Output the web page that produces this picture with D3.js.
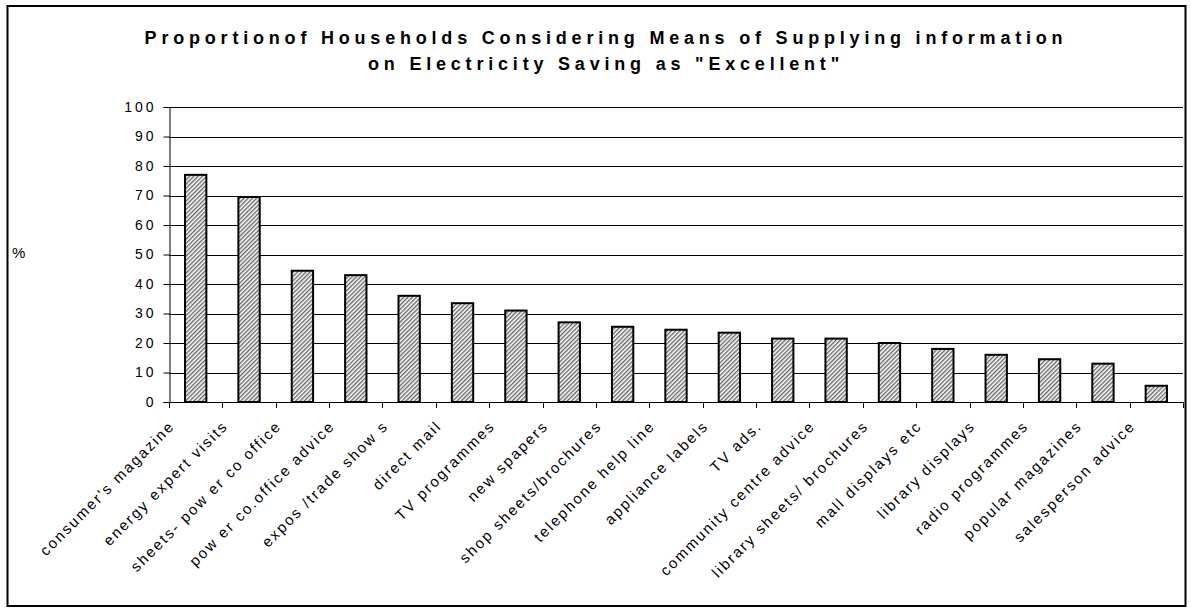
<!DOCTYPE html>
<html>
<head>
<meta charset="utf-8">
<script src="https://cdn.jsdelivr.net/npm/d3@7"></script>
<style>
  body { margin: 0; background: #fff; }
  svg { display: block; font-family: "Liberation Sans", Arial, sans-serif; }
</style>
</head>
<body>
<div id="chart"></div>
<script>
// Chart data
var categories = [
    "consumer's magazine", "energy expert visits", "sheets- pow er co office",
    "pow er co.office advice", "expos /trade show s", "direct mail",
    "TV programmes", "new spapers", "shop sheets/brochures",
    "telephone help line", "appliance labels", "TV ads.",
    "community centre advice", "library sheets/ brochures", "mall displays etc",
    "library displays", "radio programmes", "popular magazines",
    "salesperson advice"
];
var values = [77, 69.5, 44.5, 43, 36, 33.5, 31, 27, 25.5, 24.5, 23.5, 21.5, 21.5, 20, 18, 16, 14.5, 13, 5.5];
var yTicks = [0, 10, 20, 30, 40, 50, 60, 70, 80, 90, 100];
var titleLines = [
    "Proportionof Households Considering Means of Supplying information",
    "on Electricity Saving as \"Excellent\""
];

// Dimensions
var width = 1191;
var height = 614;
var plotLeft = 169;
var plotRight = 1183;
var plotTop = 107;
var plotBottom = 402;

var svg = d3.select("#chart")
    .append("svg")
    .attr("width", width)
    .attr("height", height);

// Hatched fill for the bars
var pattern = svg.append("defs")
    .append("pattern")
    .attr("id", "hatch")
    .attr("patternUnits", "userSpaceOnUse")
    .attr("width", 3)
    .attr("height", 3)
    .attr("patternTransform", "rotate(45)");

pattern.append("rect")
    .attr("width", 3)
    .attr("height", 3)
    .attr("fill", "#fff");

pattern.append("rect")
    .attr("width", 1.4)
    .attr("height", 3)
    .attr("fill", "#666");

// Outer frame
svg.append("rect")
    .attr("x", 7.5)
    .attr("y", 6)
    .attr("width", 1178)
    .attr("height", 600)
    .attr("fill", "none")
    .attr("stroke", "#000")
    .attr("stroke-width", 2);

// Scales
var x = d3.scaleBand()
    .domain(categories)
    .range([plotLeft, plotRight])
    .paddingInner(0.6)
    .paddingOuter(0.3);

var xStep = (plotRight - plotLeft) / categories.length;

var y = d3.scaleLinear()
    .domain([0, 100])
    .range([plotBottom, plotTop]);

// Gridlines
svg.append("g")
    .selectAll("line")
    .data(yTicks.slice(1))
    .enter()
    .append("line")
    .attr("x1", plotLeft)
    .attr("x2", plotRight)
    .attr("y1", function(d) { return Math.round(y(d)) + 0.5; })
    .attr("y2", function(d) { return Math.round(y(d)) + 0.5; })
    .attr("stroke", "#000")
    .attr("stroke-width", 1);

// Y axis
var yAxis = svg.append("g")
    .attr("transform", "translate(" + (plotLeft + 0.5) + ",0)")
    .call(d3.axisLeft(y).tickValues(yTicks).tickSize(6).tickPadding(7));

yAxis.select(".domain").attr("stroke", "#000");
yAxis.selectAll("text")
    .attr("font-size", 14)
    .attr("letter-spacing", 3)
    .attr("fill", "#000")
    .attr("font-family", "Liberation Sans, Arial, sans-serif");

// Bars
svg.append("g")
    .selectAll("rect")
    .data(values)
    .enter()
    .append("rect")
    .attr("x", function(d, i) { return x(categories[i]); })
    .attr("y", function(d) { return y(d); })
    .attr("width", x.bandwidth())
    .attr("height", function(d) { return plotBottom - y(d); })
    .attr("fill", "url(#hatch)")
    .attr("stroke", "#000")
    .attr("stroke-width", 2);

// X axis line and ticks between categories
svg.append("line")
    .attr("x1", plotLeft)
    .attr("x2", plotRight)
    .attr("y1", plotBottom + 0.5)
    .attr("y2", plotBottom + 0.5)
    .attr("stroke", "#000");

svg.append("g")
    .selectAll("line")
    .data(d3.range(categories.length + 1))
    .enter()
    .append("line")
    .attr("x1", function(i) { return Math.round(plotLeft + i * xStep) + 0.5; })
    .attr("x2", function(i) { return Math.round(plotLeft + i * xStep) + 0.5; })
    .attr("y1", plotBottom)
    .attr("y2", plotBottom + 6)
    .attr("stroke", "#000");

// Category labels, rotated
svg.append("g")
    .selectAll("text")
    .data(categories)
    .enter()
    .append("text")
    .attr("transform", function(d) {
        var cx = x(d) + x.bandwidth() / 2 - 20;
        return "translate(" + cx + "," + (plotBottom + 25) + ") rotate(-45)";
    })
    .attr("text-anchor", "end")
    .attr("font-size", 15)
    .attr("letter-spacing", 2)
    .text(function(d) { return d; });

// Y axis title
svg.append("text")
    .attr("x", 12)
    .attr("y", 258)
    .attr("font-size", 15)
    .text("%");

// Title
svg.append("g")
    .selectAll("text")
    .data(titleLines)
    .enter()
    .append("text")
    .attr("x", 606)
    .attr("y", function(d, i) { return 44 + i * 26; })
    .attr("text-anchor", "middle")
    .attr("font-size", 18)
    .attr("font-weight", "bold")
    .attr("letter-spacing", 4.8)
    .text(function(d) { return d; });
</script>
</body>
</html>
